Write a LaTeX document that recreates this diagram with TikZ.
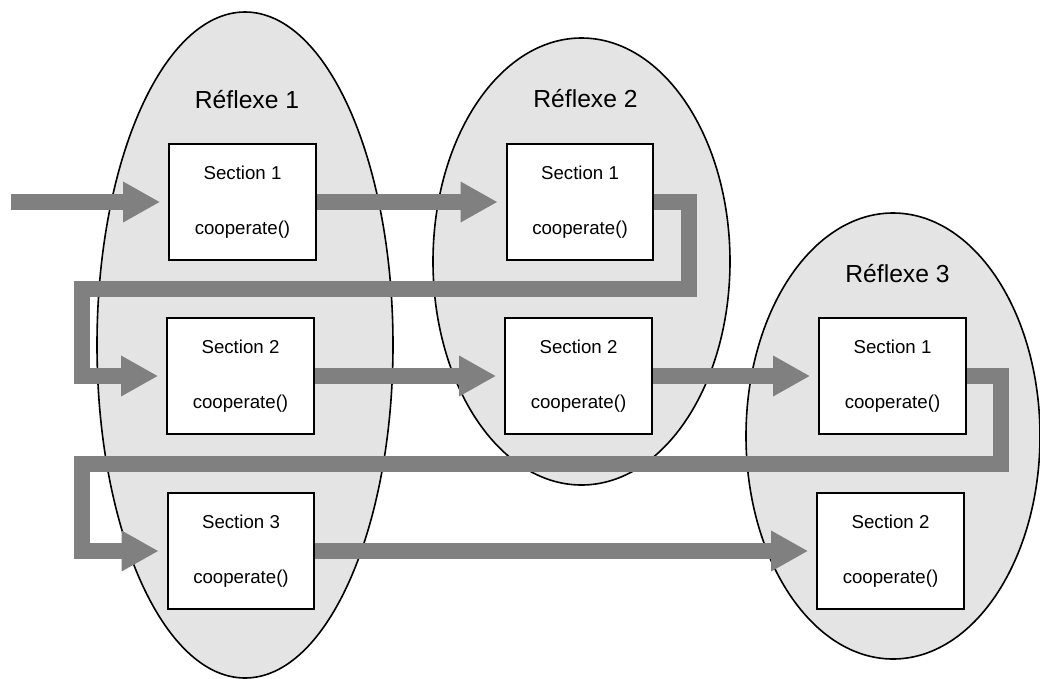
\documentclass[tikz,border=0pt]{standalone}
\usepackage{fontspec}
\setmainfont{Liberation Sans}
\usetikzlibrary{arrows.meta,shapes.geometric}
\definecolor{fondgris}{RGB}{228,228,228}
\definecolor{flechegris}{RGB}{128,128,128}

\begin{document}
\begin{tikzpicture}[x=0.75pt, y=-0.75pt,
  reflexe/.style={ellipse, draw, line width=1.2pt, fill=fondgris, inner sep=0pt},
  titre/.style={anchor=base, font=\fontsize{18.5}{22}\selectfont},
  sectbox/.style={draw, line width=1.5pt, fill=white, minimum width=110pt,
    minimum height=87pt, align=center, font=\fontsize{14}{16.8}\selectfont,
    execute at begin node={\rule{0pt}{14.7pt}}},
  flow/.style={draw=flechegris, line width=12pt, line join=miter,
    -{Triangle[length=27.75pt, width=28.5pt]}, shorten >=6pt}]
  \useasboundingbox (0,0) rectangle (1040,679);

  % Réflexes
  \node[reflexe, minimum width=222pt, minimum height=499.5pt] (r1) at (245,345) {};
  \node[reflexe, minimum width=222.75pt, minimum height=335.25pt] (r2) at (581.5,261.5) {};
  \node[reflexe, minimum width=220.5pt, minimum height=334.5pt] (r3) at (893,436) {};
  \node[titre] (t1) at (247,108) {Réflexe 1};
  \node[titre] (t2) at (585.5,107) {Réflexe 2};
  \node[titre] (t3) at (897.5,282) {Réflexe 3};

  % Sections
  \node[sectbox] (s11) at (242.5,202) {Section 1\\[24pt]cooperate()};
  \node[sectbox] (s21) at (580,202) {Section 1\\[24pt]cooperate()};
  \node[sectbox] (s12) at (240.5,376) {Section 2\\[24pt]cooperate()};
  \node[sectbox] (s22) at (578.5,376) {Section 2\\[24pt]cooperate()};
  \node[sectbox] (s31) at (892.5,376) {Section 1\\[24pt]cooperate()};
  \node[sectbox] (s13) at (241,551) {Section 3\\[24pt]cooperate()};
  \node[sectbox] (s32) at (890.5,551) {Section 2\\[24pt]cooperate()};

  % Flèches
  \coordinate (entree) at (11,202);
  \coordinate (coude1) at (688.5,289);
  \coordinate (coude2) at (82,376);
  \coordinate (coude3) at (1000.5,464);
  \coordinate (coude4) at (82,551);
  \draw[flow] (entree) -- (s11.west);
  \draw[flow] (s11.east) -- (s21.west);
  \draw[flow] (s21.east) -| (coude1) -| (coude2) -- (s12.west);
  \draw[flow] (s12.east) -- (s22.west);
  \draw[flow] (s22.east) -- (s31.west);
  \draw[flow] (s31.east) -| (coude3) -| (coude4) -- (s13.west);
  \draw[flow] (s13.east) -- (s32.west);

\end{tikzpicture}
\end{document}
